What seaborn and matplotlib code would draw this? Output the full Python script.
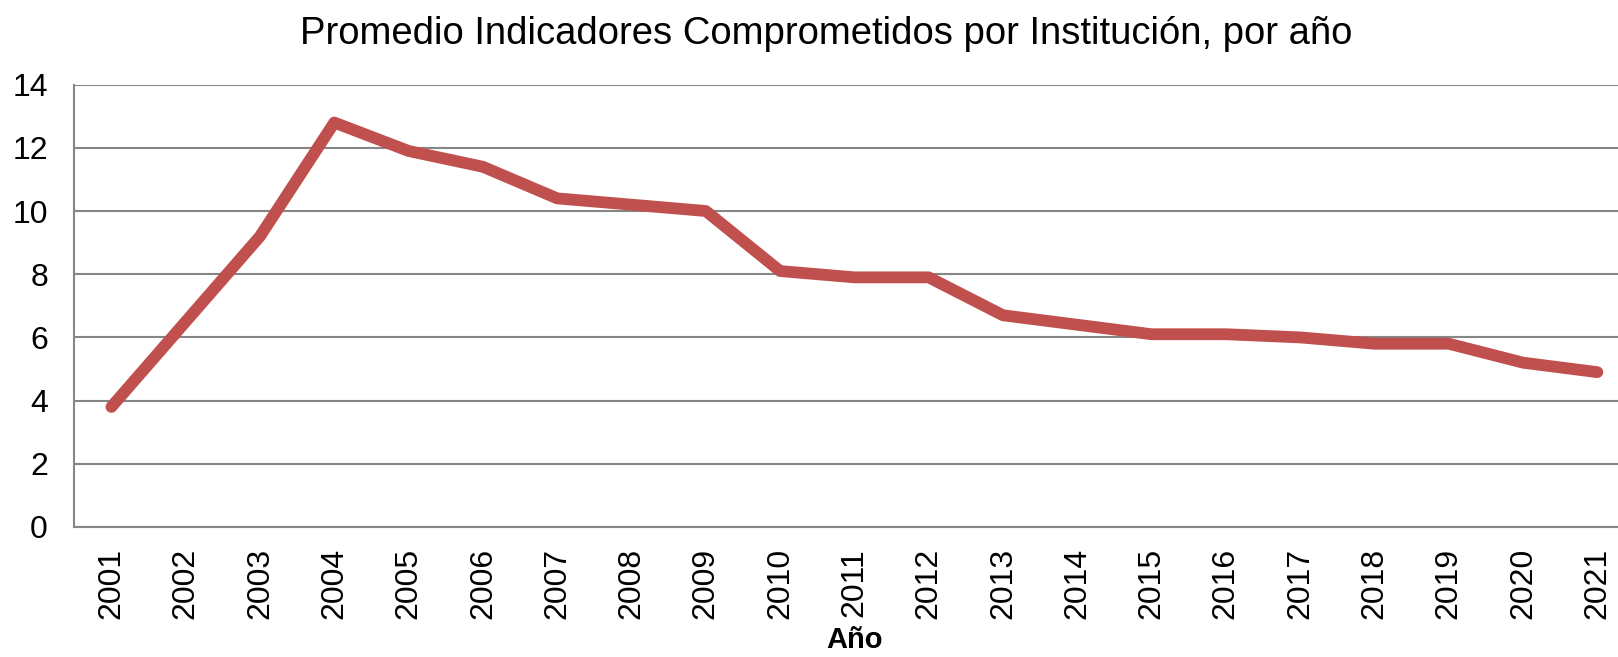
import matplotlib
matplotlib.use("Agg")
import matplotlib.pyplot as plt
import seaborn as sns
import pandas as pd

# Average number of committed indicators per institution, by year
years = ["2001", "2002", "2003", "2004", "2005", "2006", "2007", "2008", "2009", "2010",
         "2011", "2012", "2013", "2014", "2015", "2016", "2017", "2018", "2019", "2020", "2021"]
promedio = [3.8, 6.5, 9.2, 12.8, 11.9, 11.4, 10.4, 10.2, 10.0, 8.1,
            7.9, 7.9, 6.7, 6.4, 6.1, 6.1, 6.0, 5.8, 5.8, 5.2, 4.9]
y_ticks = [0, 2, 4, 6, 8, 10, 12, 14]

df = pd.DataFrame({"Año": years, "Promedio": promedio})

sns.set_theme(style="white")
plt.rcParams["font.family"] = ["Liberation Sans", "DejaVu Sans"]
plt.rcParams["text.color"] = "black"
plt.rcParams["xtick.labelcolor"] = "black"
plt.rcParams["ytick.labelcolor"] = "black"
plt.rcParams["axes.labelcolor"] = "black"

grid_col = "#868686"
fig = plt.figure(figsize=(16.18, 6.57), dpi=100)
ax = fig.add_axes([0.0459, 0.1979, 0.9643, 0.6733])

ax.set_ylim(0, 14)
ax.set_yticks(y_ticks)
ax.yaxis.grid(True, color=grid_col, linewidth=1.5)
ax.set_axisbelow(True)

sns.lineplot(data=df, x="Año", y="Promedio", ax=ax, color="#C0504D",
             linewidth=8.5, solid_capstyle="round", solid_joinstyle="round",
             sort=False)

n = len(years)
ax.set_xlim(-0.5, n - 0.5)
# category boundaries carry the tick marks, centres carry the labels
ax.set_xticks([i - 0.5 for i in range(n + 1)])
ax.set_xticklabels([])
ax.set_xticks(range(n), minor=True)
ax.set_xticklabels(years, minor=True, rotation=90, fontsize=23)
ax.tick_params(axis="x", which="major", length=8, width=1.5, color=grid_col, direction="out")
ax.tick_params(axis="x", which="minor", length=0, pad=15)
ax.tick_params(axis="y", length=8, width=1.5, color=grid_col, direction="out",
               labelsize=23, pad=11)
ax.set_yticklabels([str(v) for v in y_ticks])

for side in ["top", "right"]:
    ax.spines[side].set_visible(False)
for side in ["left", "bottom"]:
    ax.spines[side].set_color(grid_col)
    ax.spines[side].set_linewidth(1.5)

ax.set_xlabel("Año", fontsize=21, fontweight="bold", labelpad=5, color="black")
ax.set_ylabel("")
fig.text(0.5105, 0.948, "Promedio Indicadores Comprometidos por Institución, por año",
         ha="center", va="center", fontsize=27.5, color="black")

fig.savefig("out.png", dpi=100)
